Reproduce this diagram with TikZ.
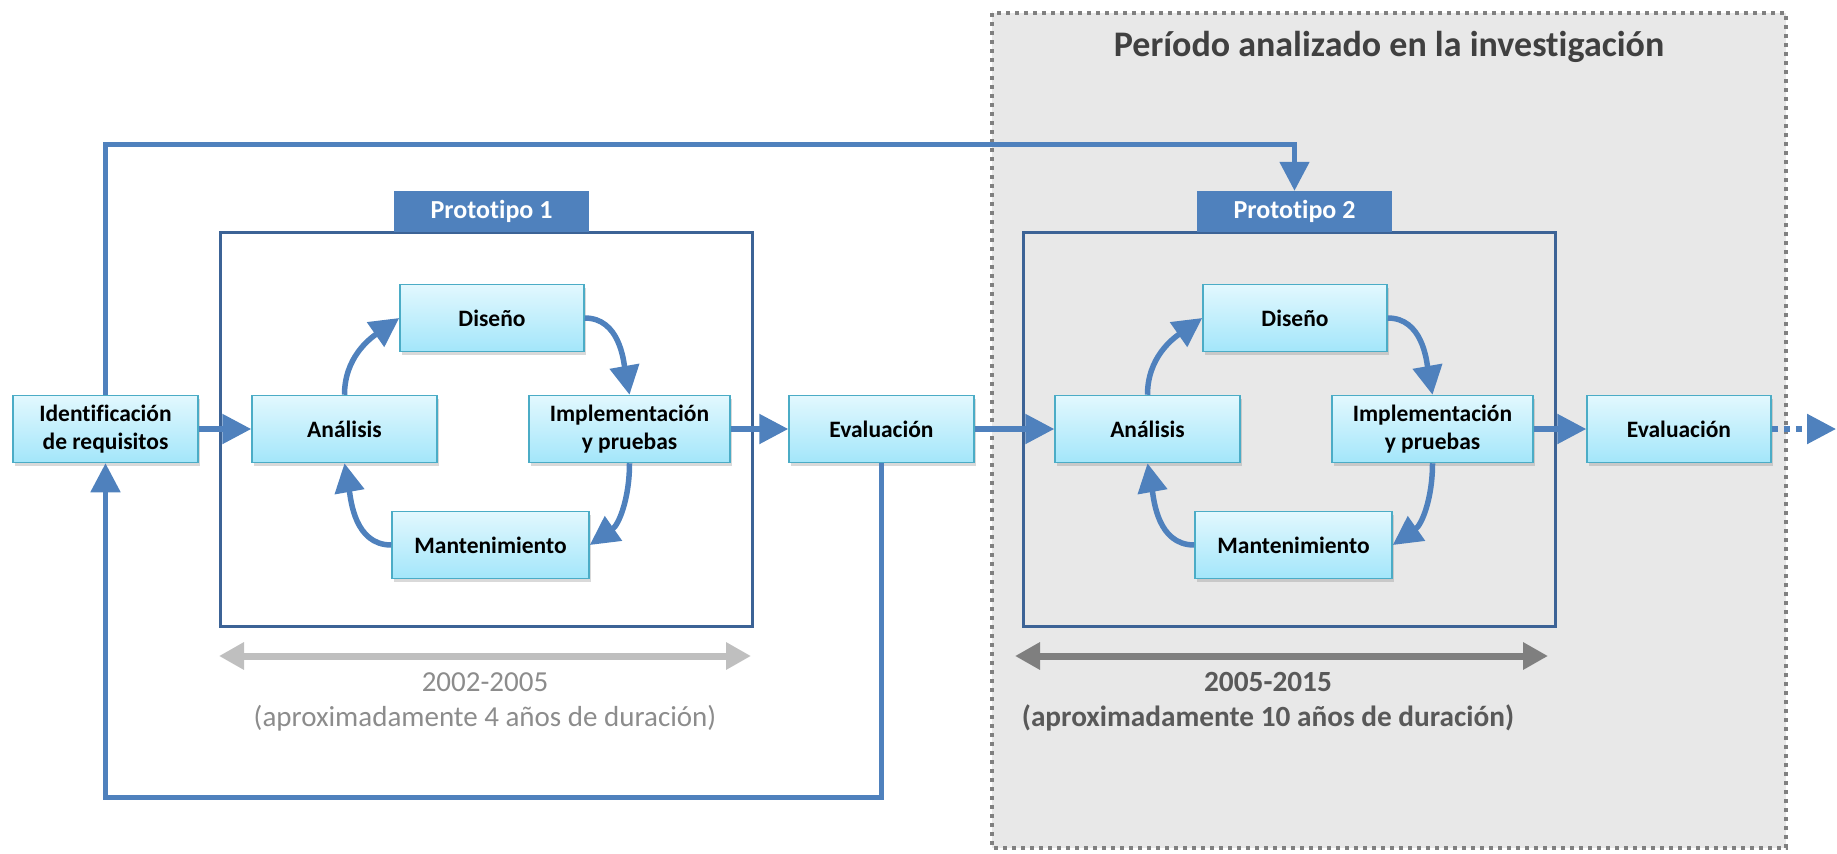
\documentclass[tikz,border=0pt]{standalone}
\usepackage{fontspec}
\setmainfont{Carlito}[Ligatures=NoCommon]
\usetikzlibrary{arrows.meta,shadows}

\definecolor{flowblue}{HTML}{4F81BD}
\definecolor{frameblue}{HTML}{3C6396}
\definecolor{boxedge}{HTML}{4BACC6}
\definecolor{boxtop}{HTML}{E2F8FE}
\definecolor{boxbot}{HTML}{A3E6FA}
\definecolor{areagray}{HTML}{E8E8E8}
\definecolor{dotgray}{HTML}{808080}
\definecolor{titlegray}{HTML}{404040}
\definecolor{spanlight}{HTML}{BFBFBF}
\definecolor{spanlighttext}{HTML}{8C8C8C}
\definecolor{spandark}{HTML}{7F7F7F}
\definecolor{spandarktext}{HTML}{595959}

\tikzset{
  stage/.style={draw=boxedge, line width=1.5pt, top color=boxtop, bottom color=boxbot,
    minimum height=67pt, inner sep=2pt, align=center,
    font=\fontsize{23.5}{28.5}\selectfont\bfseries,
    drop shadow={shadow xshift=2pt, shadow yshift=-3pt, opacity=0.3}},
  flow/.style={draw=flowblue, line width=5.5pt, -{Triangle[length=29pt,width=29pt]}},
  loopline/.style={draw=flowblue, line width=5pt, -{Triangle[length=29pt,width=29pt]}},
  protoframe/.style={draw=frameblue, line width=3pt},
  protolabel/.style={fill=flowblue, text=white, minimum width=195pt, minimum height=41pt,
    inner sep=0pt, font=\fontsize{26}{31}\selectfont\bfseries},
  span/.style={line width=7pt, {Triangle[length=25pt,width=26pt]}-{Triangle[length=25pt,width=26pt]}},
}

% one prototype: frame, label and the four-stage cycle
\newcommand\protocycle[3]{%
  \begin{scope}[xshift=#2pt]
    \draw[protoframe] (220,-232) rectangle (752,-626);
    \node[protolabel] (p#1) at (491.5,-211.5) {#3};
    \node[stage, minimum width=185pt] (a#1) at (344.5,-429) {Análisis};
    \node[stage, minimum width=184pt] (d#1) at (492,-318) {Diseño};
    \node[stage, minimum width=201pt] (i#1) at (629.5,-429) {Implementación\\y pruebas};
    \node[stage, minimum width=197pt] (m#1) at (490.5,-545) {Mantenimiento};
    \draw[flow] (a#1.north) to[out=90,in=215] (d#1.west);
    \draw[flow] (d#1.east) to[out=0,in=100] (i#1.north);
    \draw[flow] (i#1.south) to[out=-90,in=35] (m#1.east);
    \draw[flow] (m#1.west) to[out=180,in=-80] (a#1.south);
  \end{scope}}

\begin{document}
\begin{tikzpicture}[x=1pt,y=1pt]
  \useasboundingbox (0,0) rectangle (1837,-854);

  % shaded research period
  \draw[fill=areagray, draw=dotgray, line width=4pt, dash pattern=on 4pt off 5pt]
    (992,-13) rectangle (1786,-848);
  \node[text=titlegray, font=\fontsize{36}{43}\selectfont\bfseries] (title) at (1389,-47)
    {Período analizado en la investigación};

  \protocycle{1}{0}{Prototipo 1}
  \protocycle{2}{803}{Prototipo 2}

  \node[stage, minimum width=185pt] (ident) at (105.5,-429) {Identificación\\de requisitos};
  \node[stage, minimum width=185pt] (eval1) at (881.5,-429) {Evaluación};
  \node[stage, minimum width=184pt] (eval2) at (1679,-429) {Evaluación};
  \coordinate (onward) at (1836,-429);

  \draw[flow] (ident.east) -- (a1.west);
  \draw[flow] (i1.east) -- (eval1.west);
  \draw[flow] (eval1.east) -- (a2.west);
  \draw[flow] (i2.east) -- (eval2.west);
  \draw[flow, dash pattern=on 6pt off 6pt] (eval2.east) -- (onward);

  % feedback loops
  \coordinate (topturn) at (1294.5,-144);
  \coordinate (botturn) at (881.5,-797);
  \draw[loopline] (ident.north) |- (topturn) -- (p2.north);
  \draw[loopline] (eval1.south) -- (botturn) -| (ident.south);

  % time spans
  \draw[span, draw=spanlight, fill=spanlight] (219,-656) -- (751,-656);
  \node[text=spanlighttext, font=\fontsize{29}{35}\selectfont, align=center] (span1) at (485,-702)
    {2002-2005\\(aproximadamente 4 años de duración)};
  \draw[span, draw=spandark, fill=spandark] (1015,-656) -- (1548,-656);
  \node[text=spandarktext, font=\fontsize{29.3}{35}\selectfont\bfseries, align=center] (span2) at (1268,-702)
    {2005-2015\\(aproximadamente 10 años de duración)};
\end{tikzpicture}
\end{document}
